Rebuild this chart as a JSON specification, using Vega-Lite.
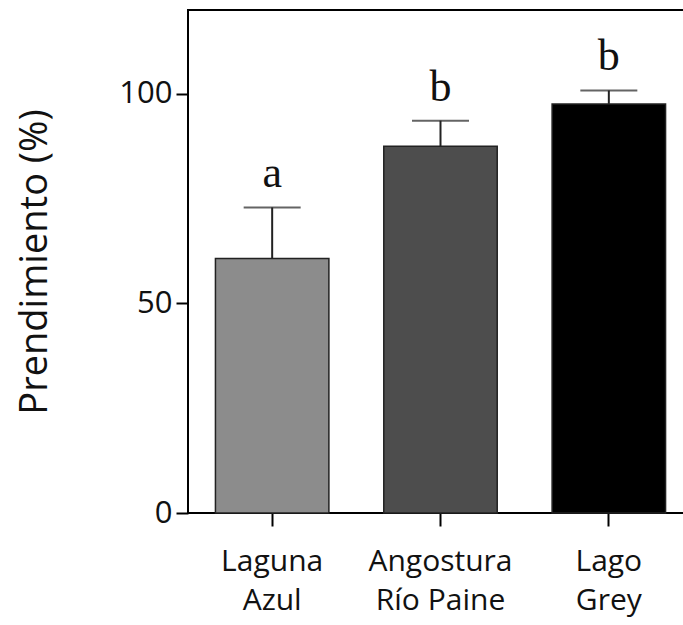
{
  "$schema": "https://vega.github.io/schema/vega-lite/v6.json",
  "autosize": "none",
  "width": 496,
  "height": 503,
  "padding": {"left": 188, "top": 10, "right": 0, "bottom": 112},
  "background": "white",
  "config": {
    "view": {"stroke": "black", "strokeWidth": 2},
    "axis": {"grid": false, "domain": false, "tickColor": "black", "tickWidth": 2, "labelColor": "#111", "labelFont": "Open Sans", "titleFont": "Open Sans", "titleFontWeight": "normal", "titleColor": "#111"}
  },
  "data": {
    "values": [
      {"sitio": "Laguna\nAzul", "media": 60.7, "superior": 72.9, "letra": "a", "orden": 1},
      {"sitio": "Angostura\nRío Paine", "media": 87.5, "superior": 93.6, "letra": "b", "orden": 2},
      {"sitio": "Lago\nGrey", "media": 97.6, "superior": 100.8, "letra": "b", "orden": 3}
    ]
  },
  "encoding": {
    "x": {
      "field": "sitio",
      "type": "nominal",
      "sort": {"field": "orden"},
      "scale": {"range": [0, 505], "paddingInner": 0.326, "paddingOuter": 0.163},
      "axis": {"title": null, "labelAngle": 0, "labelFontSize": 30, "tickSize": 13, "labelPadding": 20, "labelLineHeight": 39, "labelExpr": "split(datum.label, '\\n')", "labelBaseline": "top"}
    }
  },
  "layer": [
    {
      "mark": {"type": "rule", "color": "#222", "strokeWidth": 2},
      "encoding": {
        "y": {"field": "media", "type": "quantitative"},
        "y2": {"field": "superior"}
      }
    },
    {
      "mark": {"type": "tick", "color": "#222", "thickness": 2, "size": 57},
      "encoding": {
        "y": {"field": "superior", "type": "quantitative"}
      }
    },
    {
      "mark": {"type": "bar", "stroke": "#222", "strokeWidth": 1.5},
      "encoding": {
        "y": {
          "field": "media",
          "type": "quantitative",
          "scale": {"domain": [0, 120], "nice": false},
          "axis": {"title": "Prendimiento (%)", "values": [0, 50, 100], "labelFontSize": 31, "tickSize": 12, "labelPadding": 4, "titleFontSize": 38, "titlePadding": 64}
        },
        "color": {
          "field": "sitio",
          "type": "nominal",
          "sort": {"field": "orden"},
          "scale": {"range": ["#8c8c8c", "#4d4d4d", "#000000"]},
          "legend": null
        }
      }
    },
    {
      "mark": {"type": "text", "font": "Liberation Serif", "fontSize": 44, "baseline": "alphabetic", "dy": -20, "color": "#111"},
      "encoding": {
        "y": {"field": "superior", "type": "quantitative"},
        "text": {"field": "letra"}
      }
    }
  ]
}
